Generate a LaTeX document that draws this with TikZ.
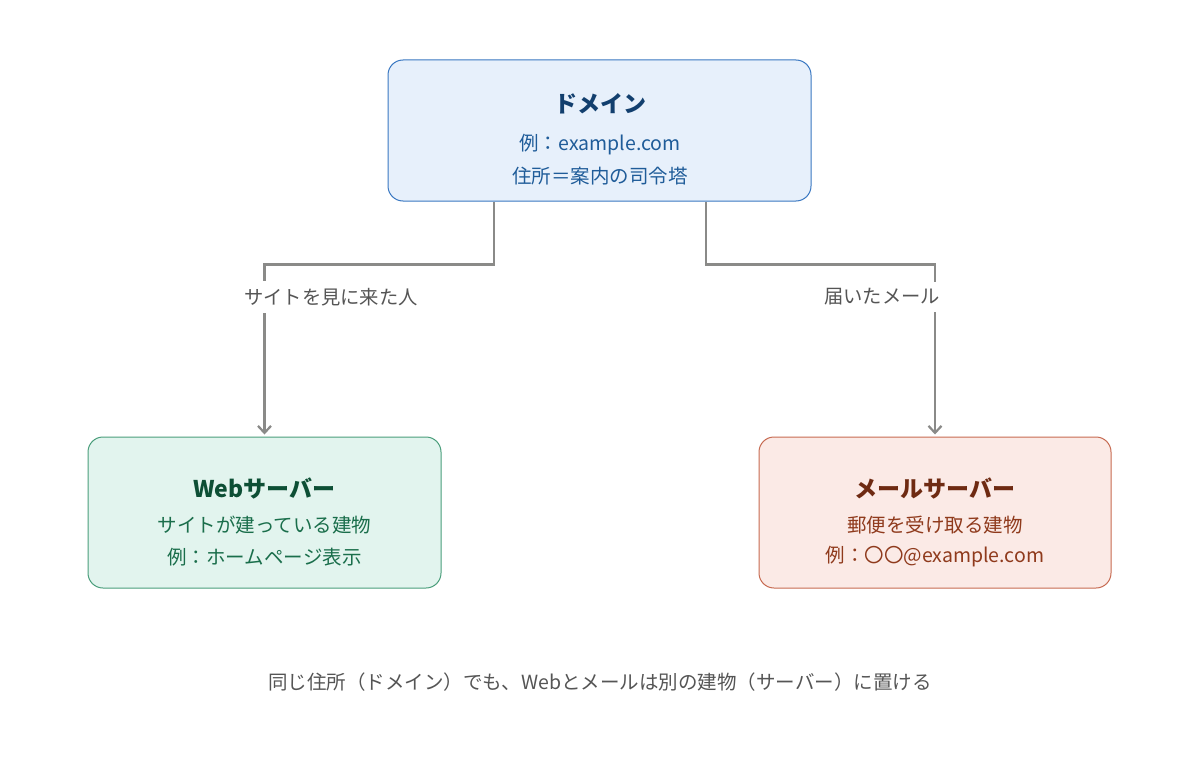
\documentclass[tikz,border=0pt]{standalone}
\usepackage{fontspec}
\setmainfont{Noto Sans CJK JP}
\usetikzlibrary{arrows.meta}
\definecolor{domfill}{HTML}{E7F0FB}
\definecolor{domdraw}{HTML}{3A78C2}
\definecolor{domtitle}{HTML}{123F6E}
\definecolor{domtext}{HTML}{1F5C99}
\definecolor{webfill}{HTML}{E2F4EE}
\definecolor{webdraw}{HTML}{4A9E7B}
\definecolor{webtitle}{HTML}{0D4F35}
\definecolor{webtext}{HTML}{1A6E4B}
\definecolor{mailfill}{HTML}{FBEAE6}
\definecolor{maildraw}{HTML}{C76B52}
\definecolor{mailtitle}{HTML}{6E2A12}
\definecolor{mailtext}{HTML}{8F3A1C}
\definecolor{conncol}{HTML}{8A8A88}
\definecolor{labcol}{HTML}{555555}
\tikzset{
  box/.style={draw, line width=1pt, rounded corners=15pt, minimum width=#1, inner sep=0pt},
  ttl/.style={font=\fontsize{23}{27}\selectfont\bfseries, inner sep=0pt, anchor=center},
  txt/.style={font=\fontsize{19.5}{23}\selectfont, inner sep=0pt, anchor=center},
  conn/.style={draw=conncol, line width=2.4pt, -{Straight Barb[length=7pt,width=13pt,line width=2.2pt]}},
  lab/.style={font=\fontsize{19.3}{23}\selectfont, text=labcol, fill=white, inner xsep=2pt, inner ysep=7pt}
}
\begin{document}
\begin{tikzpicture}[x=1pt,y=-1pt]
\useasboundingbox[fill=white] (0,0) rectangle (1200,776);
% boxes
\node[box=423pt, minimum height=141pt, fill=domfill, draw=domdraw] (dom) at (599.5,130.5) {};
\node[box=353pt, minimum height=151pt, fill=webfill, draw=webdraw] (web) at (264.5,512.5) {};
\node[box=352pt, minimum height=151pt, fill=mailfill, draw=maildraw] (mail) at (935,512.5) {};
% texts
\node[ttl, text=domtitle] (domt) at (600,104) {ドメイン};
\node[txt, text=domtext] (doml1) at (600,145) {例：example.com};
\node[txt, text=domtext] (doml2) at (600,176) {住所＝案内の司令塔};
\node[ttl, text=webtitle] (webt) at (264.5,488) {Webサーバー};
\node[txt, text=webtext] (webl1) at (264.5,525) {サイトが建っている建物};
\node[txt, text=webtext] (webl2) at (264.5,557) {例：ホームページ表示};
\node[ttl, text=mailtitle] (mailt) at (935,488) {メールサーバー};
\node[txt, text=mailtext] (maill1) at (935,525) {郵便を受け取る建物};
\node[txt, text=mailtext] (maill2) at (935,557) {例：〇〇@example.com};
% connectors
\draw[conn] ([xshift=-105.5pt]dom.south) -- ++(0pt,-63pt) -| ([yshift=2pt]web.north);
\draw[conn] ([xshift=106.5pt]dom.south) -- ++(0pt,-63pt) -| ([yshift=2pt]mail.north);
% connector labels
\node[lab] (lab1) at (331,297) {サイトを見に来た人};
\node[lab] (lab2) at (882,297) {届いたメール};
% footnote
\node[txt, text=labcol] (foot) at (600,682) {同じ住所（ドメイン）でも、Webとメールは別の建物（サーバー）に置ける};
\end{tikzpicture}
\end{document}
